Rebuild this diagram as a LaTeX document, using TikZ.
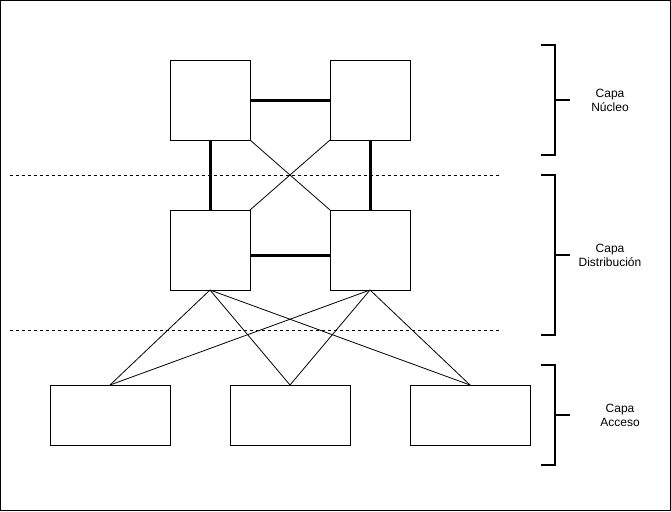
\documentclass[tikz,border=0pt]{standalone}
\usepackage{fontspec}
\setmainfont{Liberation Sans}
\begin{document}
\begin{tikzpicture}[x=1pt,y=-1pt,
  box/.style={draw,line width=1pt,fill=white,inner sep=0pt,outer sep=0pt},
  sq/.style={box,minimum width=80pt,minimum height=80pt},
  acc/.style={box,minimum width=120pt,minimum height=60pt},
  thick link/.style={line width=3pt},
  thin link/.style={line width=0.8pt},
  sep/.style={line width=0.8pt,dash pattern=on 3pt off 3pt},
  bracket/.style={line width=2pt},
  lbl/.style={font=\fontsize{12}{14}\selectfont,align=center}]
\useasboundingbox (0,0) rectangle (671,511);
\draw[line width=1pt] (0.5,0.5) rectangle (670.5,510.5);
% dashed separators
\coordinate (s1a) at (10,175); \coordinate (s1b) at (500,175);
\coordinate (s2a) at (10,330); \coordinate (s2b) at (500,330);
\draw[sep] (s1a) -- (s1b);
\draw[sep] (s2a) -- (s2b);
% nodes
\node[sq] (c1) at (210,100) {};
\node[sq] (c2) at (370,100) {};
\node[sq] (d1) at (210,250) {};
\node[sq] (d2) at (370,250) {};
\node[acc] (a1) at (110,415) {};
\node[acc] (a2) at (290,415) {};
\node[acc] (a3) at (470,415) {};
% links
\draw[thick link] (c1.east) -- (c2.west);
\draw[thick link] (c1.south) -- (d1.north);
\draw[thick link] (c2.south) -- (d2.north);
\draw[thick link] (d1.east |- 0,255) -- (d2.west |- 0,255);
\draw[thin link] (c1.south east) -- (d2.north west);
\draw[thin link] (c2.south west) -- (d1.north east);
\foreach \d in {d1,d2}{
  \foreach \a in {a1,a2,a3}{
    \draw[thin link] (\d.south) -- (\a.north);
  }
}
% brackets
\draw[bracket] (541,45) -- (555,45) -- (555,155) -- (541,155);
\draw[bracket] (555,100) -- (570,100);
\draw[bracket] (541,175) -- (555,175) -- (555,335) -- (541,335);
\draw[bracket] (555,255) -- (570,255);
\draw[bracket] (541,365) -- (555,365) -- (555,465) -- (541,465);
\draw[bracket] (555,415) -- (570,415);
% labels
\node[lbl] (l1) at (610,100) {Capa\\Núcleo};
\node[lbl] (l2) at (610,255) {Capa\\Distribución};
\node[lbl] (l3) at (620,415) {Capa\\Acceso};
\end{tikzpicture}
\end{document}
